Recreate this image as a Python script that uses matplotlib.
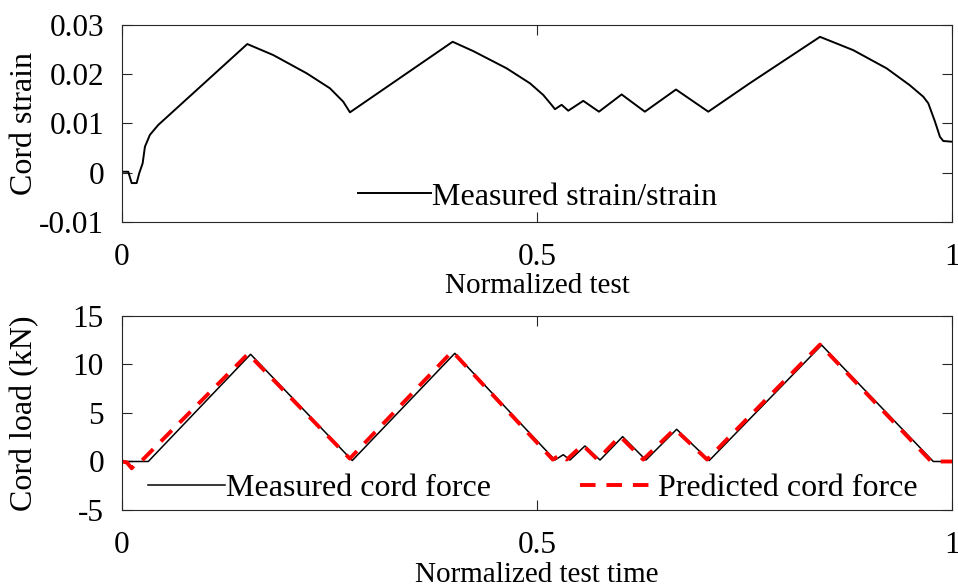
import numpy as np
import matplotlib.pyplot as plt

plt.rcParams['font.family'] = ['Liberation Serif', 'DejaVu Serif']
plt.rcParams['font.size'] = 21
plt.rcParams['axes.unicode_minus'] = False

# strain (top panel)
t_strain = [0.0, 0.0076, 0.0117, 0.0177, 0.0208, 0.0249, 0.0277, 0.0337, 0.0437,
            0.151, 0.1823, 0.2225, 0.2506, 0.2666, 0.2747,
            0.3984, 0.4233, 0.4635, 0.4916, 0.5076, 0.5177, 0.5217, 0.5297, 0.5377, 0.5558,
            0.5747, 0.602, 0.630, 0.6675, 0.7064, 0.7566, 0.841,
            0.881, 0.9213, 0.949, 0.9654, 0.9715, 0.9795, 0.9855, 0.9895, 1.0]
strain = [0.0002, 0.0002, -0.0021, -0.0021, -0.0001, 0.0019, 0.0053, 0.0077, 0.0097,
          0.02614, 0.0239, 0.0202, 0.01715, 0.01443, 0.01227,
          0.0266, 0.0247, 0.0212, 0.01816, 0.01579, 0.01376, 0.0129, 0.0138, 0.0126, 0.0146,
          0.0124, 0.0159, 0.0124, 0.0169, 0.0124, 0.0182, 0.0276,
          0.0249, 0.0212, 0.0178, 0.01545, 0.0141, 0.0104, 0.0073, 0.00645, 0.0063]

# measured cord force (bottom panel)
t_meas = [0.0, 0.0317, 0.155, 0.2775, 0.401, 0.5217, 0.5317, 0.5398, 0.5578,
          0.576, 0.6032, 0.6313, 0.6683, 0.7076, 0.843, 0.9775, 1.0]
f_meas = [0.0, 0.0, 11.05, 0.1, 11.15, 0.15, 0.7, 0.15, 1.6,
          0.15, 2.56, 0.15, 3.32, 0.1, 12.0, 0.0, 0.0]

# predicted cord force
t_pred = [0.0, 0.006, 0.0117, 0.018, 0.024, 0.152, 0.2745, 0.398, 0.519,
          0.528, 0.536, 0.555, 0.573, 0.600, 0.628, 0.666, 0.705, 0.841, 0.975, 1.0]
f_pred = [0.0, -0.1, -0.7, -0.05, 0.1, 11.1, 0.3, 11.35, 0.2,
          0.7, 0.2, 1.7, 0.2, 2.6, 0.2, 3.35, 0.2, 12.05, 0.0, 0.0]

fig = plt.figure(figsize=(9.58, 5.86), dpi=100)
ax1 = fig.add_axes([0.1273, 0.6212, 0.8664, 0.3361])
ax2 = fig.add_axes([0.1273, 0.1297, 0.8664, 0.3311])

ax1.plot(t_strain, strain, color='black', lw=1.4, label='Measured strain/strain')
ax1.set_xlim(0, 1)
ax1.set_ylim(-0.01, 0.03)
ax1.set_xticks([0, 0.5, 1])
ax1.set_xticklabels(['0', '0.5', '1'])
ax1.set_yticks([-0.01, 0, 0.01, 0.02, 0.03])
ax1.set_yticklabels(['-0.01', '0', '0.01', '0.02', '0.03'])
ax1.set_xlabel('Normalized test', labelpad=1, fontsize=21)
ax1.set_ylabel('Cord strain', fontsize=23)
ax1.legend(loc='center', bbox_to_anchor=(0.501, 0.127), frameon=False, fontsize=23,
           handlelength=2.3, handletextpad=0.03, borderpad=0)

ax2.plot(t_meas, f_meas, color='black', lw=1.1, label='Measured cord force')
ax2.plot(t_pred, f_pred, color='red', lw=2.8, ls=(0, (4, 2.8)), label='Predicted cord force')
ax2.set_xlim(0, 1)
ax2.set_ylim(-5, 15)
ax2.set_xticks([0, 0.5, 1])
ax2.set_xticklabels(['0', '0.5', '1'])
ax2.set_yticks([-5, 0, 5, 10, 15])
ax2.set_yticklabels(['-5', '0', '5', '10', '15'])
ax2.set_xlabel('Normalized test time', labelpad=1.5, fontsize=21)
ax2.set_ylabel('Cord load (kN)', fontsize=23)
ax2.legend(loc='center', bbox_to_anchor=(0.495, 0.113), frameon=False, ncol=2, fontsize=23,
           handlelength=2.4, handletextpad=0.03, columnspacing=2.8, borderpad=0)

for ax in (ax1, ax2):
    ax.tick_params(direction='in', length=7, width=0.8, top=True, right=True,
                   colors='#262626', labelcolor='black', labelsize=22.5)
    ax.tick_params(axis='y', pad=13)
    ax.tick_params(axis='x', pad=15)
    ax.yaxis.set_label_coords(-0.10, 0.5)
    for s in ax.spines.values():
        s.set_color('#262626')
        s.set_linewidth(0.8)

fig.savefig('out.png', dpi=100)
